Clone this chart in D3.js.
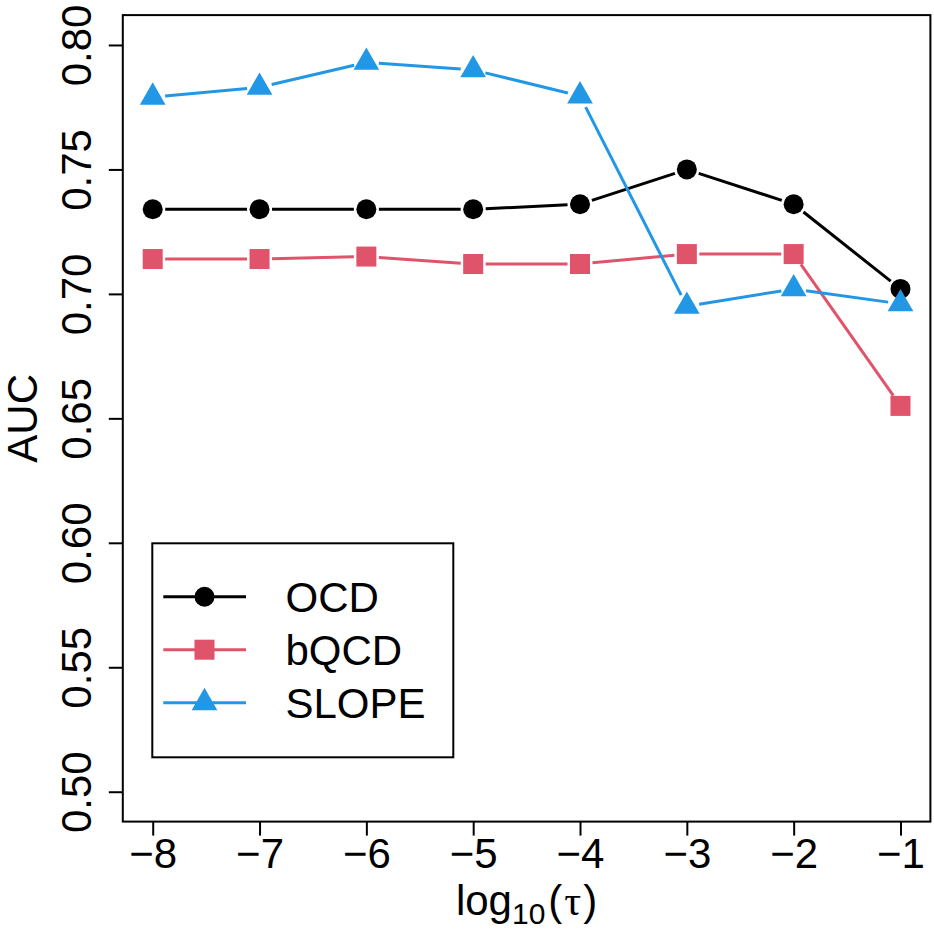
<!DOCTYPE html>
<html>
<head>
<meta charset="utf-8">
<script src="https://cdn.jsdelivr.net/npm/d3@7"></script>
<style>
  body { margin: 0; background: #fff; }
  text { font-family: "Liberation Sans", Arial, sans-serif; }
</style>
</head>
<body>
<div id="chart"></div>
<script>
// Data
const logTau = [-8, -7, -6, -5, -4, -3, -2, -1];
const ocdAuc = [0.734, 0.734, 0.734, 0.734, 0.736, 0.750, 0.736, 0.702];
const bqcdAuc = [0.714, 0.714, 0.715, 0.712, 0.712, 0.716, 0.716, 0.655];
const slopeAuc = [0.779, 0.783, 0.793, 0.790, 0.7795, 0.695, 0.702, 0.696];
const yTickValues = [0.50, 0.55, 0.60, 0.65, 0.70, 0.75, 0.80];
const seriesNames = ["OCD", "bQCD", "SLOPE"];

const series = [
    { name: seriesNames[0], values: ocdAuc, color: "#000000", shape: "circle" },
    { name: seriesNames[1], values: bqcdAuc, color: "#DF536B", shape: "square" },
    { name: seriesNames[2], values: slopeAuc, color: "#2297E6", shape: "triangle" }
];

const width = 934, height = 934;
const box = { left: 122.8, right: 930.4, top: 15.1, bottom: 821.6 };

const svg = d3.select("#chart")
    .append("svg")
    .attr("width", width)
    .attr("height", height);

// R style scales: data range padded by 4% each side
const xScale = d3.scaleLinear()
    .domain([-8.28, -0.72])
    .range([box.left, box.right]);

const yScale = d3.scaleLinear()
    .domain([0.488, 0.812])
    .range([box.bottom, box.top]);

// Bottom axis
const xAxis = svg.append("g")
    .attr("transform", `translate(0,${box.bottom})`)
    .call(d3.axisBottom(xScale)
        .tickValues(logTau)
        .tickSize(14)
        .tickPadding(4)
        .tickFormat(d => d3.format("d")(d).replace("-", "\u2212")));
xAxis.select(".domain").remove();
xAxis.selectAll("line").attr("stroke", "#000").attr("stroke-width", 2);
xAxis.selectAll("text")
    .attr("font-size", 42)
    .attr("font-family", "Liberation Sans, Arial, sans-serif")
    .attr("fill", "#000")
    .attr("dy", null)
    .attr("y", 46.5);

// Left axis, labels rotated like R's las = 0
const yAxis = svg.append("g")
    .attr("transform", `translate(${box.left},0)`)
    .call(d3.axisLeft(yScale)
        .tickValues(yTickValues)
        .tickSize(14)
        .tickFormat(d3.format(".2f")));
yAxis.select(".domain").remove();
yAxis.selectAll("line").attr("stroke", "#000").attr("stroke-width", 2);
yAxis.selectAll("text")
    .attr("font-size", 42)
    .attr("font-family", "Liberation Sans, Arial, sans-serif")
    .attr("fill", "#000")
    .attr("x", null)
    .attr("dy", null)
    .attr("text-anchor", "middle")
    .attr("transform", "translate(-32,0) rotate(-90)");

// Plot frame
svg.append("rect")
    .attr("x", box.left)
    .attr("y", box.top)
    .attr("width", box.right - box.left)
    .attr("height", box.bottom - box.top)
    .attr("fill", "none")
    .attr("stroke", "#000")
    .attr("stroke-width", 2);

// Axis titles
svg.append("text")
    .attr("transform", `translate(37,${(box.top + box.bottom) / 2}) rotate(-90)`)
    .attr("text-anchor", "middle")
    .attr("font-size", 42)
    .text("AUC");

const xTitle = svg.append("text")
    .attr("x", (box.left + box.right) / 2)
    .attr("y", 915)
    .attr("text-anchor", "middle")
    .attr("font-size", 42);
xTitle.append("tspan").text("log");
xTitle.append("tspan").attr("font-size", 30).attr("dy", 9).text("10");
xTitle.append("tspan").attr("dy", -9).attr("dx", 3).text("(");
xTitle.append("tspan").attr("dx", 2).attr("font-family", "Liberation Serif, serif").text("\u03c4");
xTitle.append("tspan").attr("dx", 2).text(")");

// Marker shapes sized like R pch 19 / 15 / 17
function drawMarker(g, shape, cx, cy, color) {
    if (shape === "circle") {
        g.append("circle").attr("cx", cx).attr("cy", cy).attr("r", 10).attr("fill", color);
    } else if (shape === "square") {
        g.append("rect").attr("x", cx - 10).attr("y", cy - 10)
            .attr("width", 20).attr("height", 20).attr("fill", color);
    } else {
        g.append("path")
            .attr("d", `M${cx},${cy - 14.9}L${cx + 12.85},${cy + 7.45}L${cx - 12.85},${cy + 7.45}Z`)
            .attr("fill", color);
    }
}

// Lines with gaps around the points (type = "b")
const gap = 12.5;
series.forEach(s => {
    const g = svg.append("g");
    const pts = logTau.map((t, i) => [xScale(t), yScale(s.values[i])]);
    for (let i = 0; i < pts.length - 1; i++) {
        const [x0, y0] = pts[i], [x1, y1] = pts[i + 1];
        const len = Math.hypot(x1 - x0, y1 - y0);
        if (len <= 2 * gap) continue;
        const ux = (x1 - x0) / len, uy = (y1 - y0) / len;
        g.append("line")
            .attr("x1", x0 + ux * gap).attr("y1", y0 + uy * gap)
            .attr("x2", x1 - ux * gap).attr("y2", y1 - uy * gap)
            .attr("stroke", s.color)
            .attr("stroke-width", 3);
    }
    pts.forEach(p => drawMarker(g, s.shape, p[0], p[1], s.color));
});

// Legend
const legend = svg.append("g");
legend.append("rect")
    .attr("x", 152.3).attr("y", 543.3)
    .attr("width", 301).attr("height", 214)
    .attr("fill", "#fff")
    .attr("stroke", "#000")
    .attr("stroke-width", 2);
series.forEach((s, i) => {
    const ly = 596.7 + i * 53;
    legend.append("line")
        .attr("x1", 163.3).attr("x2", 246)
        .attr("y1", ly).attr("y2", ly)
        .attr("stroke", s.color).attr("stroke-width", 3);
    drawMarker(legend, s.shape, 204.5, ly, s.color);
    legend.append("text")
        .attr("x", 285.5).attr("y", ly + 15)
        .attr("font-size", 42)
        .text(s.name);
});
</script>
</body>
</html>
